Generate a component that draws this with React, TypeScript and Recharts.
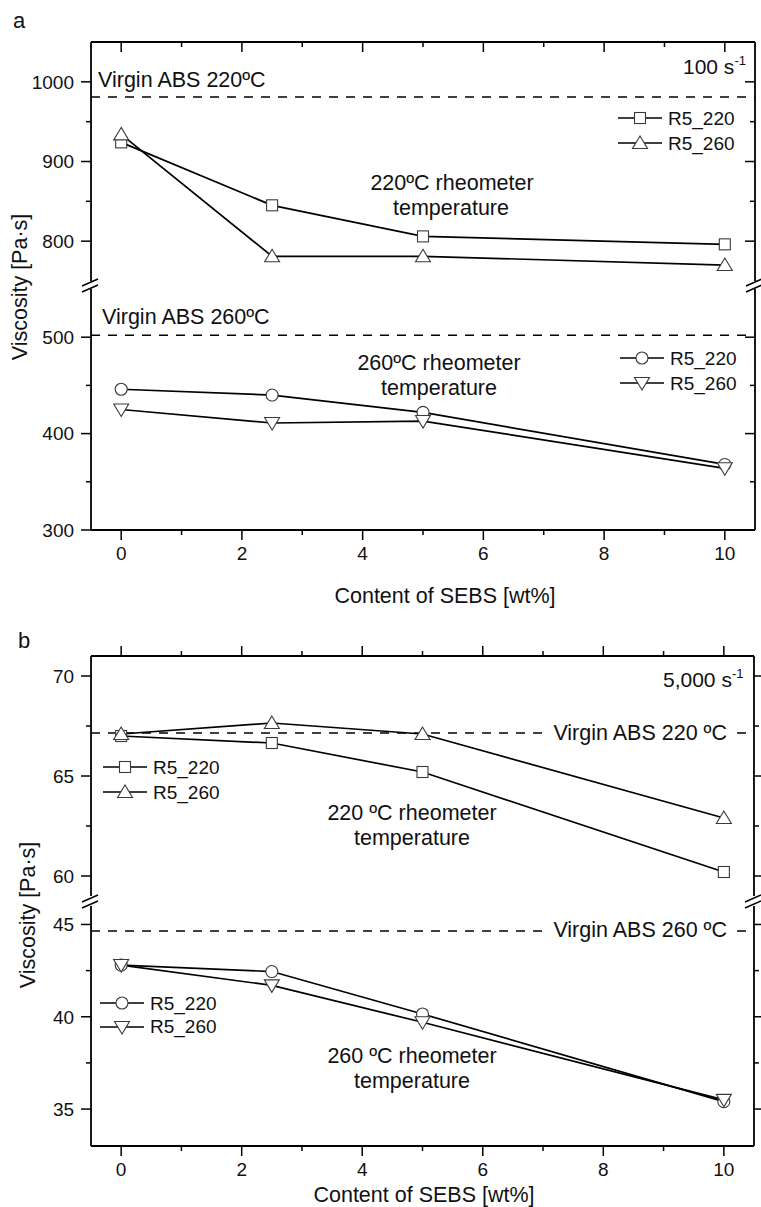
import React from 'react';
import { LineChart, Line, XAxis, YAxis, ReferenceLine, Legend } from 'recharts';

const W = 761;
const H = 1207;
const FONT = "'Liberation Sans', Arial, Helvetica, sans-serif";
const INK = '#111';
const THIN = 0.01; // axis band size: near zero so margins alone place the plot area

// SEBS content [wt%]
const sebs = [0, 2.5, 5, 10];

// (a) 100 s-1, viscosity [Pa·s]
const a220rheoR5_220 = [924, 845, 806, 796];
const a220rheoR5_260 = [934, 781, 781, 770];
const a260rheoR5_220 = [446, 440, 422, 368];
const a260rheoR5_260 = [425, 411, 413, 364];
const aVirgin220 = 981;
const aVirgin260 = 502;

// (b) 5,000 s-1, viscosity [Pa·s]
const b220rheoR5_220 = [67.0, 66.65, 65.2, 60.2];
const b220rheoR5_260 = [67.1, 67.65, 67.1, 62.9];
const b260rheoR5_220 = [42.8, 42.45, 40.15, 35.4];
const b260rheoR5_260 = [42.8, 41.7, 39.7, 35.5];
const bVirgin220 = 67.15;
const bVirgin260 = 44.65;

const xDomain: [number, number] = [-0.5, 10.5];
const xMajor = [0, 2, 4, 6, 8, 10];
const xMinor = [1, 3, 5, 7, 9];

type Shape = 'square' | 'up' | 'circle' | 'down';

interface Seg {
  top: number;
  bottom: number;
  right: number;
  domain: [number, number];
  major: number[];
  minor: number[];
  r220: number[];
  r260: number[];
  shapes: [Shape, Shape];
  virgin: number;
  virginText: string;
  labelKind: 'above' | 'inline';
  labelDx: number;
  labelDy: number;
  legend: { left: number; top: number; row: number };
  edge: 'top' | 'bottom';
  inward: boolean;
}

const AXIS = { stroke: '#000', strokeWidth: 1.8 };
const TICK = { stroke: '#000', strokeWidth: 1.5 };
const TICK_TEXT = { fontSize: 19, fill: INK, fontFamily: FONT };
const blank = () => '';

function Marker({ cx, cy, shape }: { cx: number; cy: number; shape: Shape }) {
  const st = { fill: '#fff', stroke: '#3a3a3a', strokeWidth: 1.1 };
  if (shape === 'square') return <rect x={cx - 5.5} y={cy - 5.5} width={11} height={11} {...st} />;
  if (shape === 'circle') return <circle cx={cx} cy={cy} r={6} {...st} />;
  if (shape === 'up')
    return <polygon points={`${cx},${cy - 7} ${cx - 7.5},${cy + 5.5} ${cx + 7.5},${cy + 5.5}`} {...st} />;
  return <polygon points={`${cx},${cy + 7} ${cx - 7.5},${cy - 5.5} ${cx + 7.5},${cy - 5.5}`} {...st} />;
}

function VirginLabel(props: any) {
  const { viewBox, text, kind, dx, dy } = props;
  if (!viewBox) return null;
  const { x, y, width } = viewBox;
  if (kind === 'above') {
    return (
      <text x={x + dx} y={y - dy} fontSize={21.5} fill={INK} fontFamily={FONT}>
        {text}
      </text>
    );
  }
  const right = x + width - 27;
  return (
    <g>
      <rect x={right - 178} y={y - 10} width={181} height={20} fill="#fff" />
      <text x={right} y={y + 6.5} textAnchor="end" fontSize={21.5} fill={INK} fontFamily={FONT}>
        {text}
      </text>
    </g>
  );
}

function Segment({ s }: { s: Seg }) {
  const data = sebs.map((x, i) => ({ x, r220: s.r220[i], r260: s.r260[i] }));
  const xId = s.edge === 'top' ? 'xTop' : 'xBot';
  const shapeFor = (key: string) => (key === 'r220' ? s.shapes[0] : s.shapes[1]);

  const renderLegend = (props: any) => (
    <div style={{ fontFamily: FONT }}>
      {(props.payload || []).map((p: any) => (
        <div key={p.dataKey} style={{ display: 'flex', alignItems: 'center', height: s.legend.row }}>
          <svg width={44} height={16}>
            <line x1={0} y1={8} x2={44} y2={8} stroke="#000" strokeWidth={1.6} />
            <Marker cx={22} cy={8} shape={shapeFor(p.dataKey)} />
          </svg>
          <span style={{ marginLeft: 6, fontSize: 19, color: INK, lineHeight: 1 }}>{p.value}</span>
        </div>
      ))}
    </div>
  );

  return (
    <div style={{ position: 'absolute', left: 0, top: 0 }}>
      <LineChart
        width={W}
        height={H}
        data={data}
        margin={{ top: s.top, bottom: H - s.bottom, left: 91, right: W - s.right }}
      >
        {s.edge === 'top' && (
          <XAxis xAxisId="xTop" type="number" dataKey="x" orientation="top" domain={xDomain}
            allowDataOverflow ticks={xMajor} height={THIN} mirror={s.inward} tickSize={10}
            tickFormatter={blank} stroke="#000" axisLine={AXIS} tickLine={TICK} />
        )}
        {s.edge === 'top' && (
          <XAxis xAxisId="xTopMinor" type="number" dataKey="x" orientation="top" domain={xDomain}
            allowDataOverflow ticks={xMinor} height={THIN} mirror={s.inward} tickSize={5}
            tickFormatter={blank} axisLine={false} tickLine={TICK} />
        )}
        {s.edge === 'bottom' && (
          <XAxis xAxisId="xBot" type="number" dataKey="x" orientation="bottom" domain={xDomain}
            allowDataOverflow ticks={xMajor} height={THIN} tickSize={10} tickMargin={7}
            tick={TICK_TEXT} stroke="#000" axisLine={AXIS} tickLine={TICK} />
        )}
        {s.edge === 'bottom' && (
          <XAxis xAxisId="xBotMinor" type="number" dataKey="x" orientation="bottom" domain={xDomain}
            allowDataOverflow ticks={xMinor} height={THIN} tickSize={5}
            tickFormatter={blank} axisLine={false} tickLine={TICK} />
        )}

        <YAxis yAxisId="yL" type="number" orientation="left" domain={s.domain} allowDataOverflow
          ticks={s.major} width={THIN} tickSize={10} tickMargin={7} tick={TICK_TEXT}
          stroke="#000" axisLine={AXIS} tickLine={TICK} />
        <YAxis yAxisId="yLm" type="number" orientation="left" domain={s.domain} allowDataOverflow
          ticks={s.minor} width={THIN} tickSize={5} tickFormatter={blank} axisLine={false} tickLine={TICK} />
        <YAxis yAxisId="yR" type="number" orientation="right" domain={s.domain} allowDataOverflow
          ticks={s.major} width={THIN} mirror={s.inward} tickSize={10} tickFormatter={blank}
          stroke="#000" axisLine={AXIS} tickLine={TICK} />
        <YAxis yAxisId="yRm" type="number" orientation="right" domain={s.domain} allowDataOverflow
          ticks={s.minor} width={THIN} mirror={s.inward} tickSize={5} tickFormatter={blank}
          axisLine={false} tickLine={TICK} />

        <ReferenceLine
          xAxisId={xId}
          yAxisId="yL"
          y={s.virgin}
          stroke="#000"
          strokeWidth={1.5}
          strokeDasharray="9 8"
          label={<VirginLabel text={s.virginText} kind={s.labelKind} dx={s.labelDx} dy={s.labelDy} />}
        />

        {(['r220', 'r260'] as const).map((key) => (
          <Line
            key={key}
            xAxisId={xId}
            yAxisId="yL"
            type="linear"
            dataKey={key}
            name={key === 'r220' ? 'R5_220' : 'R5_260'}
            stroke="#000"
            strokeWidth={1.7}
            isAnimationActive={false}
            dot={(p: any) => (
              <Marker key={`${key}-${p.index}`} cx={p.cx} cy={p.cy} shape={shapeFor(key)} />
            )}
            activeDot={false}
          />
        ))}

        <Legend
          layout="vertical"
          align="center"
          verticalAlign="middle"
          content={renderLegend}
          wrapperStyle={{ left: s.legend.left, top: s.legend.top - s.legend.row / 2, width: 'auto', height: 'auto' }}
        />
      </LineChart>
    </div>
  );
}

const segments: Seg[] = [
  {
    top: 42, bottom: 281, right: 755, domain: [750, 1050], major: [800, 900, 1000], minor: [850, 950],
    r220: a220rheoR5_220, r260: a220rheoR5_260, shapes: ['square', 'up'],
    virgin: aVirgin220, virginText: 'Virgin ABS 220ºC', labelKind: 'above', labelDx: 7, labelDy: 10,
    legend: { left: 618, top: 118, row: 25 }, edge: 'top', inward: true,
  },
  {
    top: 289, bottom: 530, right: 755, domain: [300, 550], major: [300, 400, 500], minor: [350, 450],
    r220: a260rheoR5_220, r260: a260rheoR5_260, shapes: ['circle', 'down'],
    virgin: aVirgin260, virginText: 'Virgin ABS 260ºC', labelKind: 'above', labelDx: 11, labelDy: 11,
    legend: { left: 620, top: 358, row: 25 }, edge: 'bottom', inward: true,
  },
  {
    top: 656, bottom: 896, right: 754, domain: [59, 71], major: [60, 65, 70], minor: [62.5, 67.5],
    r220: b220rheoR5_220, r260: b220rheoR5_260, shapes: ['square', 'up'],
    virgin: bVirgin220, virginText: 'Virgin ABS 220 ºC', labelKind: 'inline', labelDx: 0, labelDy: 0,
    legend: { left: 103, top: 767, row: 25 }, edge: 'top', inward: false,
  },
  {
    top: 906, bottom: 1146, right: 754, domain: [33, 46], major: [35, 40, 45], minor: [37.5, 42.5],
    r220: b260rheoR5_220, r260: b260rheoR5_260, shapes: ['circle', 'down'],
    virgin: bVirgin260, virginText: 'Virgin ABS 260 ºC', labelKind: 'inline', labelDx: 0, labelDy: 0,
    legend: { left: 100, top: 1003, row: 23.5 }, edge: 'bottom', inward: false,
  },
];

function BreakMark({ x, y }: { x: number; y: number }) {
  return (
    <g stroke="#000" strokeWidth={1.5}>
      <line x1={x - 9} y1={y - 3 + 4} x2={x + 7} y2={y - 3 - 3} />
      <line x1={x - 9} y1={y + 3 + 4} x2={x + 7} y2={y + 3 - 3} />
    </g>
  );
}

export default function App() {
  const txt = { fontFamily: FONT, fill: INK };
  return (
    <div style={{ position: 'absolute', left: 0, top: 0, width: W, height: H, background: '#fff', fontFamily: FONT }}>
      {segments.map((s, i) => (
        <Segment key={i} s={s} />
      ))}
      <svg width={W} height={H} style={{ position: 'absolute', left: 0, top: 0, pointerEvents: 'none' }}>
        {/* panel a */}
        <text x={13} y={28} fontSize={22} {...txt}>a</text>
        <text x={683} y={74} fontSize={21} {...txt}>
          100 s<tspan dy={-9} fontSize={13}>-1</tspan>
        </text>
        <text x={452} y={190} fontSize={21.5} textAnchor="middle" {...txt}>220ºC rheometer</text>
        <text x={451} y={215} fontSize={21.5} textAnchor="middle" {...txt}>temperature</text>
        <text x={439} y={370} fontSize={21.5} textAnchor="middle" {...txt}>260ºC rheometer</text>
        <text x={439} y={395} fontSize={21.5} textAnchor="middle" {...txt}>temperature</text>
        <text x={445} y={603} fontSize={21.5} textAnchor="middle" {...txt}>Content of SEBS [wt%]</text>
        <text transform="translate(27,287) rotate(-90)" fontSize={21.5} textAnchor="middle" {...txt}>
          Viscosity [Pa·s]
        </text>
        <BreakMark x={91} y={285} />
        <BreakMark x={755} y={285} />

        {/* panel b */}
        <text x={18} y={648} fontSize={22} {...txt}>b</text>
        <text x={663} y={687} fontSize={21} {...txt}>
          5,000 s<tspan dy={-9} fontSize={13}>-1</tspan>
        </text>
        <text x={412} y={820} fontSize={21.5} textAnchor="middle" {...txt}>220 ºC rheometer</text>
        <text x={412} y={845} fontSize={21.5} textAnchor="middle" {...txt}>temperature</text>
        <text x={412} y={1063} fontSize={21.5} textAnchor="middle" {...txt}>260 ºC rheometer</text>
        <text x={412} y={1088} fontSize={21.5} textAnchor="middle" {...txt}>temperature</text>
        <text x={424} y={1202} fontSize={21.5} textAnchor="middle" {...txt}>Content of SEBS [wt%]</text>
        <text transform="translate(35,915) rotate(-90)" fontSize={21.5} textAnchor="middle" {...txt}>
          Viscosity [Pa·s]
        </text>
        <BreakMark x={91} y={901} />
        <BreakMark x={754} y={901} />
      </svg>
    </div>
  );
}
